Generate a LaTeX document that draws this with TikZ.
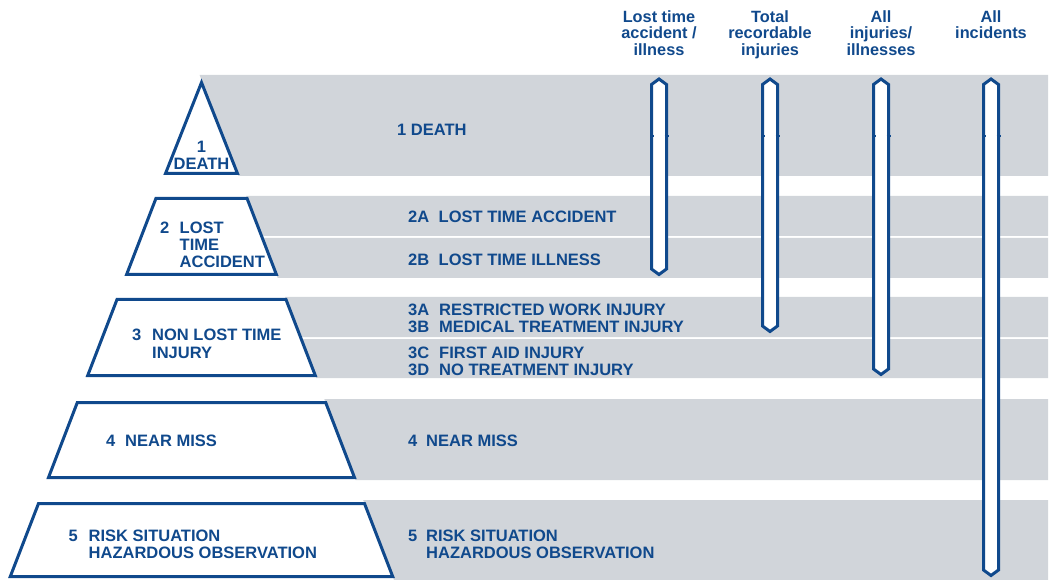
\documentclass[tikz,border=0pt]{standalone}
\usepackage{fontspec}
\setmainfont{Liberation Sans}
\definecolor{dblue}{RGB}{16,73,140}
\definecolor{gband}{RGB}{209,213,218}
\tikzset{
  band/.style={fill=gband, draw=none},
  pyr/.style={draw=dblue, line width=3pt, fill=white, line join=miter},
  barshape/.style={draw=dblue, line width=3pt, fill=white, line join=miter},
  tickmark/.style={draw=dblue, line width=1.5pt},
  lbl/.style={anchor=base west, inner sep=0pt, text=dblue, font=\bfseries\fontsize{16.5}{17}\selectfont},
  clbl/.style={anchor=base, inner sep=0pt, text=dblue, font=\bfseries\fontsize{16.5}{17}\selectfont},
  hdr/.style={anchor=north, align=center, inner sep=0pt, text=dblue, font=\bfseries\fontsize{16.3}{16.7}\selectfont},
}
\begin{document}
\begin{tikzpicture}[x=1pt,y=-1pt]
\useasboundingbox (0,0) rectangle (1053,580);

% grey bands
\fill[band] (199.6,75) -- (1048,75) -- (1048,176) -- (238.5,176) -- cycle;
\fill[band] (246.2,196) -- (1048,196) -- (1048,236) -- (261.6,236) -- cycle;
\fill[band] (262.3,238) -- (1048,238) -- (1048,278) -- (277.7,278) -- cycle;
\fill[band] (285.0,297) -- (1048,297) -- (1048,337) -- (300.4,337) -- cycle;
\fill[band] (301.2,339) -- (1048,339) -- (1048,378) -- (316.2,378) -- cycle;
\fill[band] (324.3,399) -- (1048,399) -- (1048,480) -- (355.5,480) -- cycle;
\fill[band] (363.2,500) -- (1048,500) -- (1048,580) -- (394.0,580) -- cycle;

% pyramid pieces
\draw[pyr] (201.5,82.5) -- (237.5,173.5) -- (165.5,173.5) -- cycle;
\draw[pyr] (155.9,198.5) -- (247.1,198.5) -- (276.4,274.5) -- (126.6,274.5) -- cycle;
\draw[pyr] (117.0,299.5) -- (286.0,299.5) -- (315.3,375.5) -- (87.7,375.5) -- cycle;
\draw[pyr] (77.3,402.5) -- (325.7,402.5) -- (354.5,477.5) -- (48.5,477.5) -- cycle;
\draw[pyr] (38.5,503.5) -- (364.5,503.5) -- (392.7,576.5) -- (10.3,576.5) -- cycle;

% vertical bars
\foreach \cx/\yb in {659/274.5, 770/331.5, 881/374.5, 991/575.5}{
  \draw[barshape] (\cx-7.5,84.5) -- (\cx,79) -- (\cx+7.5,84.5) -- (\cx+7.5,\yb-5.5) -- (\cx,\yb) -- (\cx-7.5,\yb-5.5) -- cycle;
  \draw[tickmark] (\cx-9,136) -- (\cx-5.5,136);
  \draw[tickmark] (\cx+5.5,136) -- (\cx+9.5,136);
}

% headers
\node[hdr] (h1) at (659,10) {Lost time\\accident /\\illness};
\node[hdr] (h2) at (770,10) {Total\\recordable\\injuries};
\node[hdr] (h3) at (881,10) {All\\injuries/\\illnesses};
\node[hdr] (h4) at (991,10) {All\\incidents};

% pyramid labels
\node[clbl] (p1n) at (201.5,153) {1};
\node[clbl] (p1) at (201.5,170) {DEATH};
\node[lbl] (p2n) at (160,234) {2};
\node[lbl] (p2a) at (179.5,234) {LOST};
\node[lbl] (p2b) at (179.5,251) {TIME};
\node[lbl] (p2c) at (179.5,268) {ACCIDENT};
\node[lbl] (p3n) at (132,341) {3};
\node[lbl] (p3a) at (152,341) {NON LOST TIME};
\node[lbl] (p3b) at (152,359) {INJURY};
\node[lbl] (p4n) at (106,446) {4};
\node[lbl] (p4) at (125,446) {NEAR MISS};
\node[lbl] (p5n) at (68.5,541) {5};
\node[lbl] (p5a) at (88.5,541) {RISK SITUATION};
\node[lbl] (p5b) at (88.5,558) {HAZARDOUS OBSERVATION};

% right-hand labels
\node[lbl] (r1) at (397,136) {1 DEATH};
\node[lbl] (r2an) at (408,223) {2A};
\node[lbl] (r2a) at (438.5,223) {LOST TIME ACCIDENT};
\node[lbl] (r2bn) at (408,266) {2B};
\node[lbl] (r2b) at (438.5,266) {LOST TIME ILLNESS};
\node[lbl] (r3an) at (408,316) {3A};
\node[lbl] (r3a) at (439,316) {RESTRICTED WORK INJURY};
\node[lbl] (r3bn) at (408,333) {3B};
\node[lbl] (r3b) at (439,333) {MEDICAL TREATMENT INJURY};
\node[lbl] (r3cn) at (408,358) {3C};
\node[lbl] (r3c) at (439,358) {FIRST AID INJURY};
\node[lbl] (r3dn) at (408,375) {3D};
\node[lbl] (r3d) at (439,375) {NO TREATMENT INJURY};
\node[lbl] (r4n) at (408,446) {4};
\node[lbl] (r4) at (426,446) {NEAR MISS};
\node[lbl] (r5n) at (408,541) {5};
\node[lbl] (r5a) at (426,541) {RISK SITUATION};
\node[lbl] (r5b) at (426,558) {HAZARDOUS OBSERVATION};
\end{tikzpicture}
\end{document}
